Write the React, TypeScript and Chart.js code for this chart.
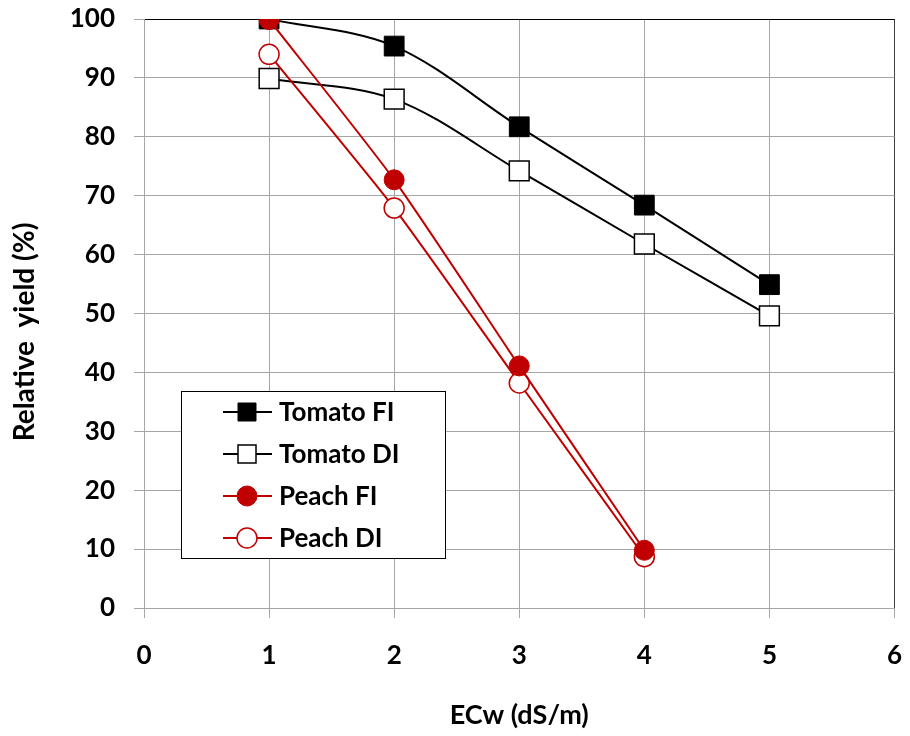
import React, { useEffect, useRef } from 'react';
import { Chart, registerables } from 'chart.js';

Chart.register(...registerables);

// ---- Data ----
const tomatoX = [1, 2, 3, 4, 5];
const tomatoFI = [100, 95.4, 81.7, 68.4, 54.9];
const tomatoDI = [89.9, 86.4, 74.2, 61.8, 49.6];
const peachX = [1, 2, 3, 4];
const peachFI = [99.9, 72.7, 41.1, 9.8];
const peachDI = [94.0, 67.9, 38.2, 8.7];
const seriesLabels = ['Tomato FI', 'Tomato DI', 'Peach FI', 'Peach DI'];
const xTitle = 'ECw (dS/m)';
const yTitle = 'Relative  yield (%)';

const RED = '#C00000';
const GRID = '#a6a6a6';
const FONT = 'Lato, Carlito, Calibri, sans-serif';

const toPoints = (xs: number[], ys: number[]) => xs.map((x, i) => ({ x, y: ys[i] }));

const boxLegend = {
  id: 'boxLegend',
  afterDraw(chart: any) {
    const ctx = chart.ctx;
    const x0 = 181, y0 = 391, w = 264, h = 167;
    ctx.save();
    ctx.fillStyle = '#fff';
    ctx.fillRect(x0, y0, w, h);
    ctx.strokeStyle = '#000';
    ctx.lineWidth = 1;
    ctx.strokeRect(x0 + 0.5, y0 + 0.5, w, h);
    chart.data.datasets.forEach((ds: any, i: number) => {
      const cy = y0 + 21 + i * 42;
      const cx = 247;
      ctx.strokeStyle = ds.borderColor;
      ctx.lineWidth = 2;
      ctx.beginPath();
      ctx.moveTo(223, cy);
      ctx.lineTo(272, cy);
      ctx.stroke();
      ctx.fillStyle = ds.pointBackgroundColor;
      ctx.strokeStyle = ds.pointBorderColor;
      ctx.lineWidth = ds.pointBorderWidth;
      ctx.beginPath();
      if (ds.pointStyle === 'rect') {
        ctx.rect(cx - 9, cy - 9, 18, 18);
      } else {
        ctx.arc(cx, cy, 10, 0, Math.PI * 2);
      }
      ctx.fill();
      ctx.stroke();
      ctx.fillStyle = '#000';
      ctx.font = `bold 26px ${FONT}`;
      ctx.textBaseline = 'middle';
      ctx.textAlign = 'left';
      ctx.fillText(ds.label, 279, cy + 1);
    });
    ctx.restore();
  },
};

const yTitlePlugin = {
  id: 'yTitle',
  afterDraw(chart: any) {
    const ctx = chart.ctx;
    ctx.save();
    ctx.translate(25, 332);
    ctx.rotate(-Math.PI / 2);
    ctx.fillStyle = '#000';
    ctx.font = `bold 28px ${FONT}`;
    ctx.textAlign = 'center';
    ctx.textBaseline = 'middle';
    ctx.fillText(yTitle, 0, 0);
    ctx.restore();
  },
};

export default function App() {
  const ref = useRef<HTMLCanvasElement | null>(null);

  useEffect(() => {
    document.body.style.margin = '0';
    if (!ref.current) return;
    const chart = new Chart(ref.current, {
      type: 'line',
      data: {
        datasets: [
          {
            label: seriesLabels[0],
            data: toPoints(tomatoX, tomatoFI),
            borderColor: '#000',
            borderWidth: 2,
            pointStyle: 'rect',
            pointRadius: 14,
            pointBackgroundColor: '#000',
            pointBorderColor: '#000',
            pointBorderWidth: 1,
            tension: 0.33,
            order: 2,
          },
          {
            label: seriesLabels[1],
            data: toPoints(tomatoX, tomatoDI),
            borderColor: '#000',
            borderWidth: 2,
            pointStyle: 'rect',
            pointRadius: 14,
            pointBackgroundColor: '#fff',
            pointBorderColor: '#000',
            pointBorderWidth: 1.5,
            tension: 0.33,
            order: 3,
          },
          {
            label: seriesLabels[2],
            data: toPoints(peachX, peachFI),
            borderColor: RED,
            borderWidth: 2,
            pointStyle: 'circle',
            pointRadius: 10,
            pointBackgroundColor: RED,
            pointBorderColor: RED,
            pointBorderWidth: 1,
            tension: 0.2,
            order: 0,
          },
          {
            label: seriesLabels[3],
            data: toPoints(peachX, peachDI),
            borderColor: RED,
            borderWidth: 2,
            pointStyle: 'circle',
            pointRadius: 10,
            pointBackgroundColor: '#fff',
            pointBorderColor: RED,
            pointBorderWidth: 1.5,
            tension: 0.2,
            order: 1,
          },
        ],
      },
      options: {
        responsive: false,
        animation: false,
        events: [],
        layout: { padding: { top: 19, right: 12, left: 0, bottom: 0 } },
        plugins: {
          legend: { display: false },
          tooltip: { enabled: false },
        },
        scales: {
          x: {
            type: 'linear',
            min: 0,
            max: 6,
            ticks: {
              stepSize: 1,
              color: '#000',
              padding: 22,
              font: { family: FONT, size: 26, weight: 'bold' },
            },
            grid: {
              color: (c: any) => (c.tick && c.tick.value === 6 ? '#404040' : GRID),
              tickColor: GRID,
              tickLength: 10,
              lineWidth: 1,
            },
            border: { color: GRID, width: 1 },
            title: {
              display: true,
              text: xTitle,
              color: '#000',
              font: { family: FONT, size: 27, weight: 'bold' },
              padding: { top: 0, bottom: 5 },
            },
            afterFit: (s: any) => {
              s.height = 128;
              s.paddingLeft = 0;
              s.paddingRight = 0;
            },
          },
          y: {
            type: 'linear',
            min: 0,
            max: 100,
            ticks: {
              stepSize: 10,
              color: '#000',
              padding: 19,
              font: { family: FONT, size: 26, weight: 'bold' },
            },
            grid: {
              color: (c: any) => (c.tick && c.tick.value === 100 ? '#000' : GRID),
              tickColor: GRID,
              tickLength: 10,
              lineWidth: 1,
            },
            border: { color: GRID, width: 1 },
            afterFit: (s: any) => {
              s.width = 144;
              s.paddingTop = 0;
              s.paddingBottom = 0;
            },
          },
        },
      },
      plugins: [boxLegend, yTitlePlugin],
    });
    return () => chart.destroy();
  }, []);

  return (
    <div style={{ width: 910, height: 736 }}>
      <canvas ref={ref} width={910} height={736} />
    </div>
  );
}
